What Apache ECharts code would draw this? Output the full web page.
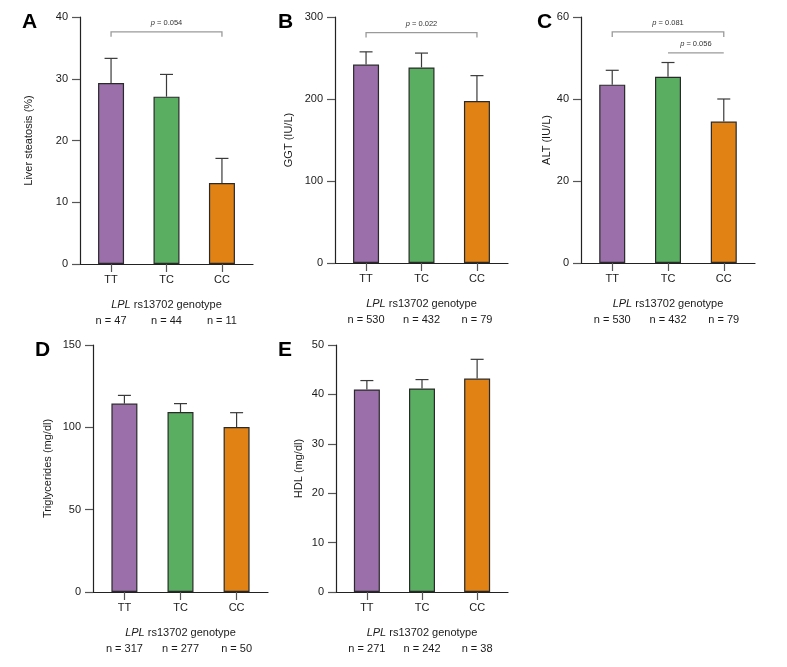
<!DOCTYPE html>
<html><head><meta charset="utf-8">
<script src="https://cdn.jsdelivr.net/npm/echarts@6/dist/echarts.min.js"></script>
<style>html,body{margin:0;padding:0;background:#fff}#c{width:787px;height:667px}</style>
</head><body><div id="c"></div>
<script>
// ---------- data ----------
const categories = ['TT', 'TC', 'CC'];

const steatosisMean  = [29.3, 27.1, 13.1];
const steatosisUpper = [33.3, 30.7, 17.1];
const steatosisN     = [47, 44, 11];

const ggtMean  = [242, 238.5, 197.5];
const ggtUpper = [257.5, 256, 228.5];
const ggtN     = [530, 432, 79];

const altMean  = [43.5, 45.4, 34.5];
const altUpper = [47.0, 48.9, 40.0];
const altN     = [530, 432, 79];

const tgMean  = [114.4, 109.3, 100.2];
const tgUpper = [119.4, 114.4, 108.9];
const tgN     = [317, 277, 50];

const hdlMean  = [41.0, 41.2, 43.2];
const hdlUpper = [42.8, 43.0, 47.1];
const hdlN     = [271, 242, 38];

const yTitles = ['Liver steatosis (%)', 'GGT (IU/L)', 'ALT (IU/L)', 'Triglycerides (mg/dl)', 'HDL (mg/dl)'];
const yMaxes = [40, 300, 60, 150, 50];
const yIntervals = [10, 100, 20, 50, 10];
const panelLetters = ['A', 'B', 'C', 'D', 'E'];

// comparisons: [fromIndex, toIndex, p-value label]
const comparisonsA = [[0, 2, '0.054']];
const comparisonsB = [[0, 2, '0.022']];
const comparisonsC = [[0, 2, '0.081'], [1, 2, '0.056']];

// ---------- layout / style ----------
const FONT = '"Liberation Sans", Arial, sans-serif';
const barColors = ['#9A6FAA', '#5AAE61', '#E08214'];
const TXT = '#1a1a1a';

const layouts = [
  { grid: { left: 80,  top: 17,  width: 173, height: 247 }, nameGap: 46, letter: [22, 22],  brackets: [{ level: 37.6, drop: 5 }] },
  { grid: { left: 335, top: 17,  width: 173, height: 246 }, nameGap: 41, letter: [278, 22], brackets: [{ level: 281, drop: 5 }] },
  { grid: { left: 581, top: 17,  width: 174, height: 246 }, nameGap: 27, letter: [537, 22], brackets: [{ level: 56.35, drop: 5 }, { level: 51.25, drop: 0 }] },
  { grid: { left: 93,  top: 345, width: 175, height: 247 }, nameGap: 40, letter: [35, 350], brackets: [] },
  { grid: { left: 336, top: 345, width: 172, height: 247 }, nameGap: 32, letter: [278, 350], brackets: [] }
];

const means = [steatosisMean, ggtMean, altMean, tgMean, hdlMean];
const uppers = [steatosisUpper, ggtUpper, altUpper, tgUpper, hdlUpper];
const ns = [steatosisN, ggtN, altN, tgN, hdlN];
const comps = [comparisonsA, comparisonsB, comparisonsC, [], []];

const X_MIN = -0.56, X_MAX = 2.56;

const grids = [], xAxes = [], yAxes = [], series = [], graphics = [];

layouts.forEach((L, k) => {
  grids.push(Object.assign({ containLabel: false }, L.grid));
  // main x axis
  xAxes.push({
    type: 'value', gridIndex: k, min: X_MIN, max: X_MAX, position: 'bottom',
    splitLine: { show: false },
    axisLine: { show: true, onZero: false, lineStyle: { color: '#222', width: 1.2 } },
    axisTick: { show: true, length: 8, customValues: [0, 1, 2], lineStyle: { color: '#555', width: 1.2 } },
    axisLabel: { customValues: [0, 1, 2], formatter: v => categories[Math.round(v)], fontFamily: FONT, fontSize: 11, color: TXT, margin: 10 },
    name: '{i|LPL} rs13702 genotype', nameLocation: 'middle', nameGap: 35,
    nameTextStyle: { fontFamily: FONT, fontSize: 11, color: TXT, rich: { i: { fontStyle: 'italic', fontFamily: FONT, fontSize: 11, color: TXT } } }
  });
  // n labels axis
  xAxes.push({
    type: 'value', gridIndex: k, min: X_MIN, max: X_MAX, position: 'bottom', offset: 51,
    splitLine: { show: false }, axisLine: { show: false, onZero: false }, axisTick: { show: false },
    axisLabel: { customValues: [0, 1, 2], formatter: v => 'n = ' + ns[k][Math.round(v)], fontFamily: FONT, fontSize: 11, color: TXT, margin: 0 }
  });
  yAxes.push({
    type: 'value', gridIndex: k, min: 0, max: yMaxes[k], interval: yIntervals[k], position: 'left',
    splitLine: { show: false },
    axisLine: { show: true, onZero: false, lineStyle: { color: '#222', width: 1.2 } },
    axisTick: { show: true, length: 8, lineStyle: { color: '#555', width: 1.2 } },
    axisLabel: { fontFamily: FONT, fontSize: 11, color: TXT, margin: 12 },
    name: yTitles[k], nameLocation: 'middle', nameGap: L.nameGap, nameRotate: 90,
    nameTextStyle: { fontFamily: FONT, fontSize: 11, color: TXT }
  });
  // bars
  series.push({
    type: 'bar', xAxisIndex: 2 * k, yAxisIndex: k, barWidth: 26,
    data: means[k].map((v, i) => ({ value: [i, v], itemStyle: { color: barColors[i] } })),
    itemStyle: { borderColor: '#2a2a2a', borderWidth: 1.2 },
    silent: true, z: 2
  });
  // error bars (upper only)
  series.push({
    type: 'custom', xAxisIndex: 2 * k, yAxisIndex: k, z: 3, silent: true,
    data: means[k].map((v, i) => [i, v, uppers[k][i]]),
    encode: { x: 0, y: [1, 2] },
    renderItem: (params, api) => {
      const p0 = api.coord([api.value(0), api.value(1)]);
      const p1 = api.coord([api.value(0), api.value(2)]);
      const st = { stroke: '#3a3a3a', lineWidth: 1.2 };
      return { type: 'group', children: [
        { type: 'line', shape: { x1: p0[0], y1: p0[1], x2: p1[0], y2: p1[1] }, style: st },
        { type: 'line', shape: { x1: p1[0] - 6.5, y1: p1[1], x2: p1[0] + 6.5, y2: p1[1] }, style: st }
      ] };
    }
  });
  // significance brackets
  if (comps[k].length) {
    series.push({
      type: 'custom', xAxisIndex: 2 * k, yAxisIndex: k, z: 4, silent: true, clip: false,
      data: comps[k].map((c, j) => [c[0], c[1], L.brackets[j].level, L.brackets[j].drop, j]),
      renderItem: (params, api) => {
        const j = api.value(4);
        const a = api.coord([api.value(0), api.value(2)]);
        const b = api.coord([api.value(1), api.value(2)]);
        const d = api.value(3);
        return { type: 'group', children: [
          { type: 'polyline', shape: { points: [[a[0], a[1] + d], [a[0], a[1]], [b[0], b[1]], [b[0], b[1] + d]] },
            style: { stroke: '#9a9a9a', lineWidth: 1.3, fill: null } },
          { type: 'text', x: (a[0] + b[0]) / 2, y: a[1] - 9,
            style: { text: '{i|p} = ' + comps[k][j][2], textAlign: 'center', textVerticalAlign: 'middle',
              fontFamily: FONT, fontSize: 7.5, fill: '#333',
              rich: { i: { fontStyle: 'italic', fontFamily: FONT, fontSize: 7.5, fill: '#333' } } } }
        ] };
      }
    });
  }
  graphics.push({ type: 'text', x: L.letter[0], y: L.letter[1],
    style: { text: panelLetters[k], fontFamily: FONT, fontWeight: 'bold', fontSize: 21, fill: '#000', textVerticalAlign: 'middle' } });
});

const chart = echarts.init(document.getElementById('c'), null, { renderer: 'canvas' });
chart.setOption({
  backgroundColor: '#fff',
  animation: false,
  grid: grids, xAxis: xAxes, yAxis: yAxes, series: series, graphic: graphics
});
</script></body></html>
